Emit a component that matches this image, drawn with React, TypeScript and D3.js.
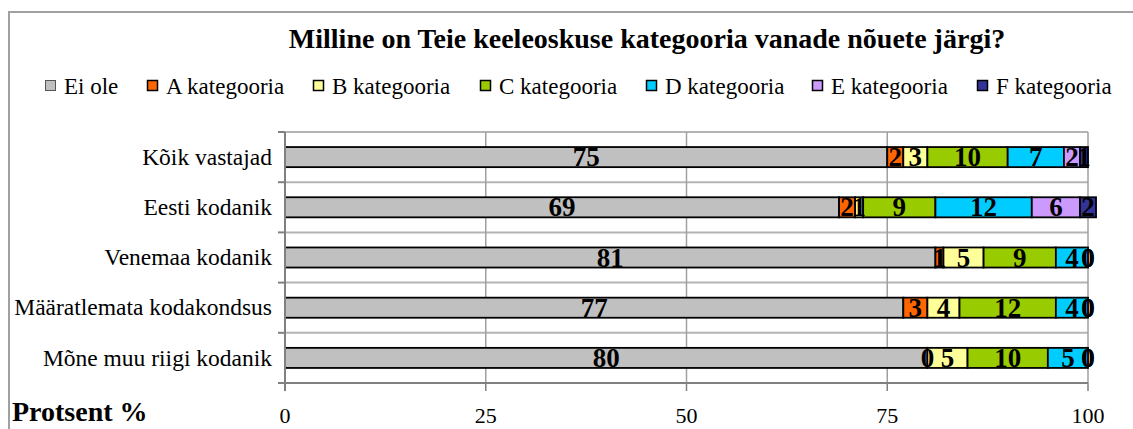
import React from "react";
import * as d3 from "d3";

const title = "Milline on Teie keeleoskuse kategooria vanade nõuete järgi?";

const categories = [
  "Kõik vastajad",
  "Eesti kodanik",
  "Venemaa kodanik",
  "Määratlemata kodakondsus",
  "Mõne muu riigi kodanik",
];

const seriesNames = [
  "Ei ole",
  "A kategooria",
  "B kategooria",
  "C kategooria",
  "D kategooria",
  "E kategooria",
  "F kategooria",
];

const eiOle = [75, 69, 81, 77, 80];
const katA = [2, 2, 1, 3, 0];
const katB = [3, 1, 5, 4, 5];
const katC = [10, 9, 9, 12, 10];
const katD = [7, 12, 4, 4, 5];
const katE = [2, 6, 0, 0, 0];
const katF = [1, 2, 0, 0, 0];

const xTicks = [0, 25, 50, 75, 100];

const colors = ["#c0c0c0", "#ff6600", "#ffff99", "#99cc00", "#00ccff", "#cc99ff", "#333399"];

const W = 1133;
const H = 429;
const font = "'Times New Roman', 'Liberation Serif', 'DejaVu Serif', serif";

const App = () => {
  const allSeries = [eiOle, katA, katB, katC, katD, katE, katF];
  const table = categories.map((c, i) => {
    const row: any = { cat: c };
    seriesNames.forEach((s, j) => (row[s] = allSeries[j][i]));
    return row;
  });

  const stacked = d3.stack().keys(seriesNames)(table);

  const x = d3.scaleLinear().domain([0, 100]).range([285, 1088]);
  const y = d3
    .scaleBand()
    .domain(categories)
    .range([132, 383])
    .paddingInner(0.6)
    .paddingOuter(0.3);
  const step = y.step();
  const bounds = d3.range(categories.length + 1).map((i) => 132 + i * step);

  const legendX = [45, 147, 313, 480, 646, 812, 977];

  return (
    <svg width={W} height={H} style={{ display: "block", position: "absolute", left: 0, top: 0 }}>
      <rect x={0} y={0} width={W} height={H} fill="#fff" />
      <rect x={9} y={12} width={W} height={H} fill="none" stroke="#a0a0a0" strokeWidth={2} />

      <text x={647} y={48} textAnchor="middle" fontFamily={font} fontWeight="bold" fontSize={28}>
        {title}
      </text>

      {seriesNames.map((s, i) => (
        <g key={s} transform={`translate(${legendX[i]},80)`}>
          <rect
            x={0.5}
            y={0.5}
            width={10}
            height={10}
            fill={colors[i]}
            stroke={i === 0 ? "#555" : "#000"}
            strokeWidth={i === 0 ? 1 : 1.5}
          />
          <text x={19} y={14} fontFamily={font} fontSize={23}>
            {s}
          </text>
        </g>
      ))}

      {/* plot area */}
      {bounds.map((b, i) => (
        <line key={"h" + i} x1={285} x2={1088} y1={b} y2={b} stroke="#b4b4b4" strokeWidth={2} />
      ))}
      {xTicks.slice(1).map((t) => (
        <line key={"v" + t} x1={x(t)} x2={x(t)} y1={132} y2={383} stroke="#a0a0a0" strokeWidth={1.5} />
      ))}

      {stacked.map((layer, li) => (
        <g key={layer.key}>
          {layer.map((d, i) => (
            <rect
              key={i}
              x={x(d[0])}
              y={y(categories[i])}
              width={x(d[1]) - x(d[0])}
              height={y.bandwidth()}
              fill={colors[li]}
              stroke="#000"
              strokeWidth={1.8}
            />
          ))}
        </g>
      ))}

      {stacked.map((layer) => (
        <g key={"l" + layer.key}>
          {layer.map((d, i) => (
            <text
              key={i}
              x={x((d[0] + d[1]) / 2)}
              y={(y(categories[i]) as number) + y.bandwidth() / 2}
              dy="0.34em"
              textAnchor="middle"
              fontFamily={font}
              fontWeight="bold"
              fontSize={27}
            >
              {d[1] - d[0]}
            </text>
          ))}
        </g>
      ))}

      {/* axes */}
      <line x1={285} x2={285} y1={132} y2={391} stroke="#808080" strokeWidth={2} />
      <line x1={285} x2={1088} y1={383} y2={383} stroke="#808080" strokeWidth={2} />
      {bounds.map((b, i) => (
        <line key={"yt" + i} x1={278} x2={285} y1={b} y2={b} stroke="#808080" strokeWidth={2} />
      ))}
      {xTicks.map((t) => (
        <g key={"xt" + t}>
          <line x1={x(t)} x2={x(t)} y1={383} y2={391} stroke="#808080" strokeWidth={1.5} />
          <text x={x(t)} y={423} textAnchor="middle" fontFamily={font} fontSize={22}>
            {t}
          </text>
        </g>
      ))}

      {categories.map((c) => (
        <text
          key={c}
          x={272}
          y={(y(c) as number) + y.bandwidth() / 2}
          dy="0.33em"
          textAnchor="end"
          fontFamily={font}
          fontSize={23.5}
        >
          {c}
        </text>
      ))}

      <text x={12} y={421} fontFamily={font} fontWeight="bold" fontSize={28}>
        Protsent %
      </text>
    </svg>
  );
};

export default App;
